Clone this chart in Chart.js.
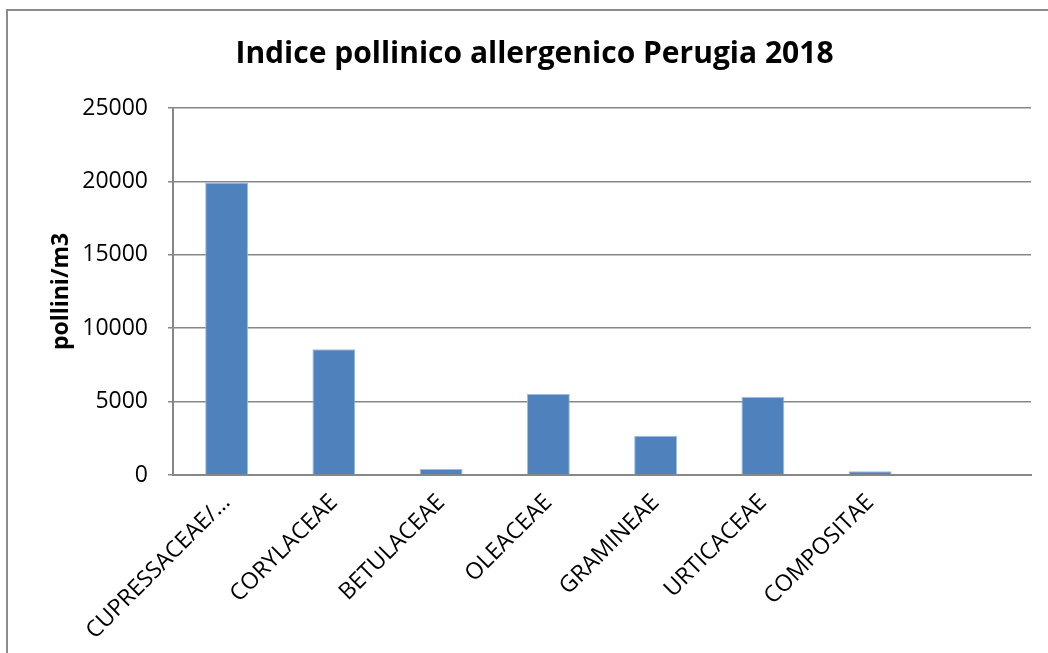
<!DOCTYPE html>
<html>
<head>
<meta charset="utf-8">
<script src="https://cdn.jsdelivr.net/npm/chart.js@4/dist/chart.umd.min.js"></script>
<style>
    html, body { margin: 0; padding: 0; background: #fff; overflow: hidden; }
    #wrap { position: relative; width: 1048px; height: 653px; }
    #frame {
        position: absolute; left: 6px; top: 9px; width: 1100px; height: 700px;
        border: 2px solid #8c8c8c; box-sizing: border-box;
    }
    #myChart { position: absolute; left: 0; top: 0; }
</style>
</head>
<body>
<div id="wrap">
    <div id="frame"></div>
    <canvas id="myChart" width="1048" height="653"></canvas>
</div>
<script>
const families = [
    'CUPRESSACEAE/…',
    'CORYLACEAE',
    'BETULACEAE',
    'OLEACEAE',
    'GRAMINEAE',
    'URTICACEAE',
    'COMPOSITAE',
    ''
]
const pollenCounts = [19930, 8560, 410, 5520, 2680, 5320, 250, null]
const yTicks = [0, 5000, 10000, 15000, 20000, 25000]

const chartTitle = 'Indice pollinico allergenico Perugia 2018'
const yTitle = 'pollini/m3'

const gridGrey = '#878787'
const font = 'Open Sans'

const chartContainer = (labels, values) => {

    const data = {
        labels: labels,
        datasets: [{
            label: yTitle,
            data: values,
            backgroundColor: '#4f81bd',
            borderColor: '#9fbbdf',
            borderWidth: { left: 1, right: 1, top: 1, bottom: 0 },
            categoryPercentage: 1,
            barPercentage: 0.4
        }]
    };

    const config = {
        type: 'bar',
        data: data,
        options: {
            responsive: false,
            animation: false,
            layout: {
                padding: { left: 38, right: 17, top: 0, bottom: 0 }
            },
            plugins: {
                legend: { display: false },
                tooltip: { enabled: false },
                title: {
                    display: true,
                    text: chartTitle,
                    color: '#000',
                    font: { family: font, size: 30, weight: 'bold', lineHeight: 1.2 },
                    padding: { top: 36, bottom: 36 }
                }
            },
            scales: {
                x: {
                    grid: { display: false },
                    border: { display: true, color: gridGrey, width: 2 },
                    ticks: {
                        color: '#000',
                        font: { family: font, size: 23 },
                        autoSkip: false,
                        minRotation: 45,
                        maxRotation: 45,
                        padding: 6
                    },
                    afterFit: (scale) => { scale.height = 178 }
                },
                y: {
                    min: 0,
                    max: 25000,
                    afterBuildTicks: (scale) => {
                        scale.ticks = yTicks.map(v => ({ value: v }))
                    },
                    grid: {
                        color: gridGrey,
                        lineWidth: 1.5,
                        drawTicks: true,
                        tickLength: 5
                    },
                    border: { display: true, color: gridGrey, width: 2 },
                    ticks: {
                        color: '#000',
                        font: { family: font, size: 23 },
                        padding: 20,
                        callback: (value) => String(value)
                    },
                    title: {
                        display: true,
                        text: yTitle,
                        color: '#000',
                        font: { family: font, size: 23, weight: 'bold', lineHeight: 1.2 },
                        padding: { top: 10, bottom: 0 }
                    },
                    afterFit: (scale) => { scale.width = 135 }
                }
            }
        }
    };

    return config
}

const myChart = new Chart(
    document.getElementById('myChart'),
    chartContainer(families, pollenCounts)
);
</script>
</body>
</html>
